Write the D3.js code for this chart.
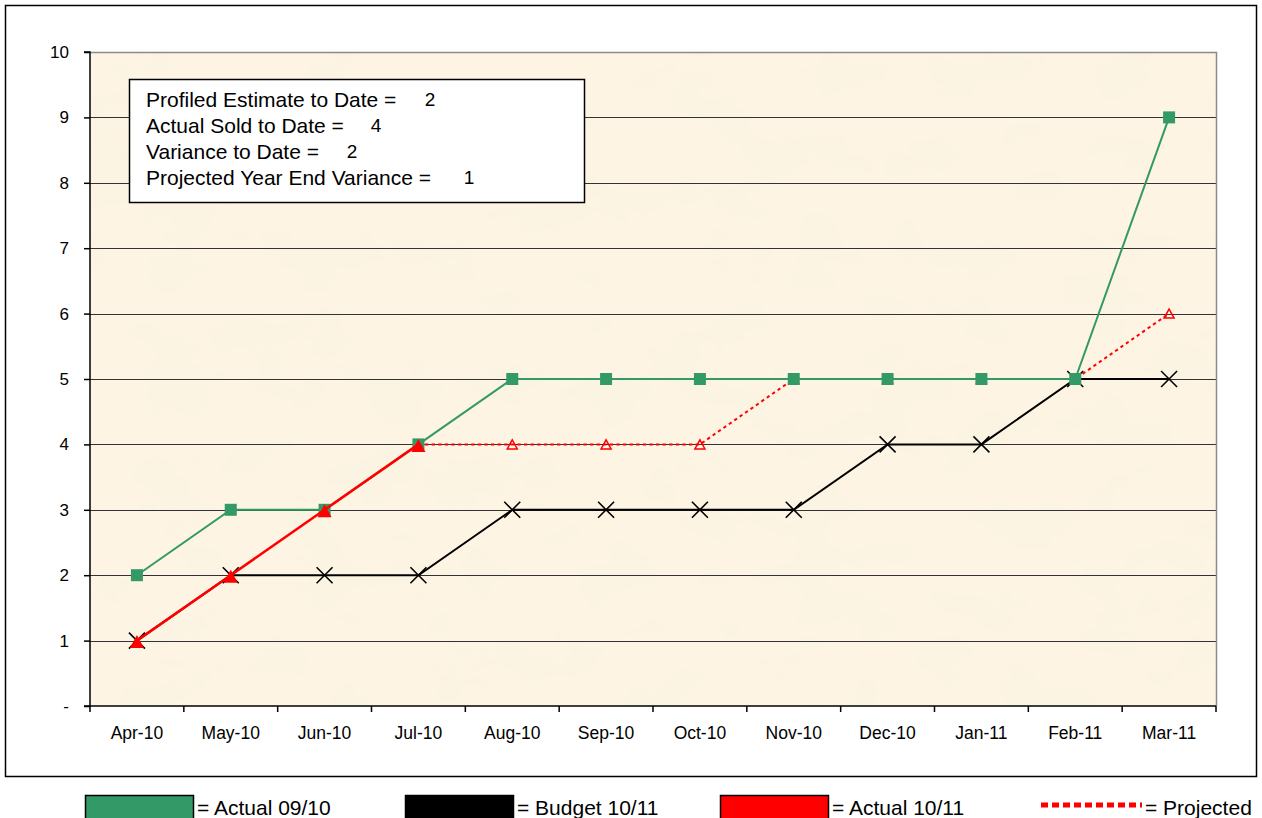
<!DOCTYPE html>
<html>
<head>
<meta charset="utf-8">
<script src="https://cdn.jsdelivr.net/npm/d3@7/dist/d3.min.js"></script>
<style>
  html, body { margin: 0; padding: 0; background: #fff; }
  svg { display: block; font-family: "Liberation Sans", Arial, sans-serif; }
</style>
</head>
<body>
<svg id="chart" width="1262" height="818"></svg>
<script>
// Months of the financial year
const months = ["Apr-10","May-10","Jun-10","Jul-10","Aug-10","Sep-10","Oct-10","Nov-10","Dec-10","Jan-11","Feb-11","Mar-11"];
// Cumulative units per month
const actual0910 = [2,3,3,4,5,5,5,5,5,5,5,9];
const budget1011 = [1,2,2,2,3,3,3,3,4,4,5,5];
const actual1011 = [1,2,3,4];
// Projection picks up from the last actual month
const projectedMonths = ["Jul-10","Aug-10","Sep-10","Oct-10","Nov-10","Dec-10","Jan-11","Feb-11","Mar-11"];
const projected = [4,4,4,4,5,5,5,5,6];
const yTicks = [0,1,2,3,4,5,6,7,8,9,10];
const yTickLabels = ["-","1","2","3","4","5","6","7","8","9","10"];
// Summary box
const summaryLabels = ["Profiled Estimate to Date =","Actual Sold to Date =","Variance to Date =","Projected Year End Variance ="];
const summaryValues = [2,4,2,1];
// Legend
const legendLabels = ["= Actual 09/10","= Budget 10/11","= Actual 10/11","= Projected"];

const svg = d3.select("#chart");
const plot = {left: 90, top: 52, right: 1216, bottom: 706};

const x = d3.scaleBand().domain(months).range([plot.left, plot.right]);
const xc = m => x(m) + x.bandwidth() / 2;
const y = d3.scaleLinear().domain([0, 10]).range([plot.bottom, plot.top]);

// Parchment texture
const defs = svg.append("defs");
const f = defs.append("filter").attr("id", "parch").attr("x", 0).attr("y", 0).attr("width", "100%").attr("height", "100%");
f.append("feTurbulence").attr("type", "fractalNoise").attr("baseFrequency", "0.014 0.022").attr("numOctaves", 4).attr("seed", 7).attr("result", "noise");
f.append("feColorMatrix").attr("in", "noise").attr("type", "matrix")
  .attr("values", "0 0 0 0 0.96  0 0 0 0 0.91  0 0 0 0 0.77  0 0 0 -1.0 0.58").attr("result", "tint");
f.append("feComposite").attr("in", "tint").attr("in2", "SourceGraphic").attr("operator", "over");

// Outer frame
svg.append("rect").attr("x", 5.5).attr("y", 5.5).attr("width", 1251).attr("height", 771)
  .attr("fill", "#fff").attr("stroke", "#000").attr("stroke-width", 1.5);

// Plot background
svg.append("rect").attr("x", plot.left).attr("y", plot.top)
  .attr("width", plot.right - plot.left).attr("height", plot.bottom - plot.top)
  .attr("fill", "#fdf4e3").attr("filter", "url(#parch)");

// Gridlines
svg.append("g").selectAll("line").data(yTicks.filter(d => d > 0)).join("line")
  .attr("x1", plot.left).attr("x2", plot.right)
  .attr("y1", d => Math.round(y(d)) + 0.5).attr("y2", d => Math.round(y(d)) + 0.5)
  .attr("stroke", "#333").attr("stroke-width", 1.2);

// Plot border (top/right)
svg.append("path")
  .attr("d", `M${plot.left},${plot.top + 0.5}H${plot.right + 0.5}V${plot.bottom}`)
  .attr("fill", "none").attr("stroke", "#8a8a8a").attr("stroke-width", 1.5);

// Y axis
const yAxis = d3.axisLeft(y).tickValues(yTicks).tickFormat((d, i) => yTickLabels[i]).tickSize(6).tickPadding(15);
const gy = svg.append("g").attr("transform", `translate(${plot.left},0)`).call(yAxis)
  .attr("font-size", 17).attr("font-family", "Liberation Sans, Arial, sans-serif");
gy.select(".domain").attr("stroke", "#000").attr("stroke-width", 1.5).attr("d", `M-6,${plot.bottom}H0V${plot.top}H-6`);
gy.selectAll(".tick line").attr("stroke", "#000").attr("stroke-width", 1.5);
gy.selectAll(".tick text").attr("fill", "#000");

// X axis: ticks at category boundaries
const gx = svg.append("g").attr("transform", `translate(0,${plot.bottom})`);
gx.append("line").attr("x1", plot.left).attr("x2", plot.right).attr("y1", 0).attr("y2", 0)
  .attr("stroke", "#000").attr("stroke-width", 1.5);
gx.selectAll("line.tk").data(months.concat(["__end"])).join("line").attr("class", "tk")
  .attr("x1", (d, i) => i < months.length ? x(d) : plot.right)
  .attr("x2", (d, i) => i < months.length ? x(d) : plot.right)
  .attr("y1", 0).attr("y2", 6).attr("stroke", "#000").attr("stroke-width", 1.5);
gx.selectAll("text").data(months).join("text")
  .attr("x", d => xc(d)).attr("y", 33).attr("text-anchor", "middle")
  .attr("font-size", 17.5).attr("fill", "#000").text(d => d);

// Series lines
const line = d3.line().x(d => xc(d.m)).y(d => y(d.v));
const zip = (ms, vs) => vs.map((v, i) => ({m: ms[i], v}));

const projData = zip(projectedMonths, projected);
const budgetData = zip(months, budget1011);
const a0910Data = zip(months, actual0910);
const a1011Data = zip(months, actual1011);

// Projected (dotted) + hollow triangles
svg.append("path").datum(projData).attr("d", line).attr("fill", "none")
  .attr("stroke", "#ff0000").attr("stroke-width", 2).attr("stroke-dasharray", "3.3,3.3");
svg.append("g").selectAll("path").data(projData.slice(1)).join("path")
  .attr("transform", d => `translate(${xc(d.m)},${y(d.v)})`)
  .attr("d", "M0,-4.5L5,4.5L-5,4.5Z").attr("fill", "none").attr("stroke", "#ff0000").attr("stroke-width", 1.5);

// Budget 10/11
svg.append("path").datum(budgetData).attr("d", line).attr("fill", "none")
  .attr("stroke", "#000").attr("stroke-width", 2);
svg.append("g").selectAll("path").data(budgetData).join("path")
  .attr("transform", d => `translate(${xc(d.m)},${y(d.v)})`)
  .attr("d", "M-8,-8L8,8M-8,8L8,-8").attr("stroke", "#000").attr("stroke-width", 1.6);

// Actual 09/10
svg.append("path").datum(a0910Data).attr("d", line).attr("fill", "none")
  .attr("stroke", "#339966").attr("stroke-width", 2);
svg.append("g").selectAll("rect").data(a0910Data).join("rect")
  .attr("x", d => xc(d.m) - 6).attr("y", d => y(d.v) - 6)
  .attr("width", 12).attr("height", 12).attr("fill", "#339966");

// Actual 10/11
svg.append("path").datum(a1011Data).attr("d", line).attr("fill", "none")
  .attr("stroke", "#ff0000").attr("stroke-width", 2.6);
svg.append("g").selectAll("path").data(a1011Data).join("path")
  .attr("transform", d => `translate(${xc(d.m)},${y(d.v)})`)
  .attr("d", "M0,-5.5L7,7.5L-7,7.5Z").attr("fill", "#ff0000");

// Summary box
const box = svg.append("g");
box.append("rect").attr("x", 129.5).attr("y", 79.5).attr("width", 455).attr("height", 123)
  .attr("fill", "#fff").attr("stroke", "#000").attr("stroke-width", 1.5);
const valueX = [430, 376, 352, 469];
summaryLabels.forEach((t, i) => {
  box.append("text").attr("x", 146).attr("y", 107 + i * 26).attr("font-size", 21).attr("fill", "#000").text(t);
  box.append("text").attr("x", valueX[i]).attr("y", 107 + i * 26 - 1).attr("font-size", 19)
    .attr("text-anchor", "middle").attr("fill", "#000").text(summaryValues[i]);
});

// Legend
const lg = svg.append("g");
const swatchX = [85, 405, 720];
const swatchColor = ["#339966", "#000000", "#ff0000"];
swatchX.forEach((sx, i) => {
  lg.append("rect").attr("x", sx + 0.5).attr("y", 795.5).attr("width", 108).attr("height", 30)
    .attr("fill", swatchColor[i]).attr("stroke", "#000").attr("stroke-width", 1.5);
  lg.append("text").attr("x", sx + 112).attr("y", 815).attr("font-size", 21).attr("fill", "#000").text(legendLabels[i]);
});
lg.append("line").attr("x1", 1041).attr("x2", 1142).attr("y1", 805).attr("y2", 805)
  .attr("stroke", "#ff0000").attr("stroke-width", 5).attr("stroke-dasharray", "7,4");
lg.append("text").attr("x", 1145).attr("y", 815).attr("font-size", 21).attr("fill", "#000").text(legendLabels[3]);
</script>
</body>
</html>
